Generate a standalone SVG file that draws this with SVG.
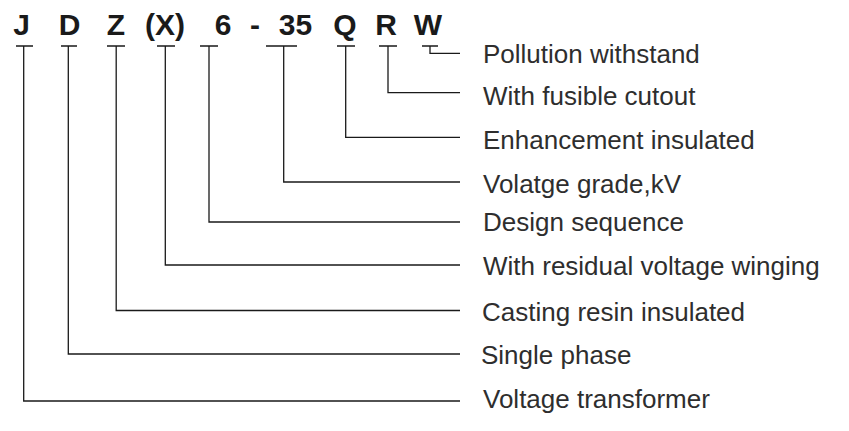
<svg xmlns="http://www.w3.org/2000/svg" width="849" height="431" viewBox="0 0 849 431">
<style>
.code{font-family:"Liberation Sans",Arial,sans-serif;font-weight:bold;font-size:30px;fill:#1a1a1a;text-anchor:middle}
.lbl{font-family:"Liberation Sans",Arial,sans-serif;font-size:26px;fill:#2e2e2e}
.ln{fill:none;stroke:#1a1a1a;stroke-width:1.3}
</style>
<rect width="849" height="431" fill="#ffffff"/>
<g id="code">
<text class="code" x="21.5" y="35">J</text>
<text class="code" x="69.5" y="35">D</text>
<text class="code" x="116" y="35">Z</text>
<text class="code" x="165" y="35">(X)</text>
<text class="code" x="223" y="35">6</text>
<text class="code" x="255" y="35">-</text>
<text class="code" x="295.5" y="35">35</text>
<text class="code" x="345" y="35">Q</text>
<text class="code" x="386" y="35">R</text>
<text class="code" x="428" y="35">W</text>
</g>
<g id="connectors">
<path class="ln" d="M16 46H33M23.7 46V401H460"/>
<path class="ln" d="M61 46H77M68.3 46V354H460"/>
<path class="ln" d="M107 46H125M116.2 46V310.5H460"/>
<path class="ln" d="M157 46H175M165.3 46V265H460"/>
<path class="ln" d="M200 46H218M209 46V222H460"/>
<path class="ln" d="M266 46H297M283.7 46V182H460"/>
<path class="ln" d="M337 46H355M345.7 46V137.3H460"/>
<path class="ln" d="M379 46H397M388 46V92.7H460"/>
<path class="ln" d="M422 46H438M430 46V53.3H460"/>
</g>
<g id="label-w"><text class="lbl" x="483" y="62.5">Pollution withstand</text></g>
<g id="label-r"><text class="lbl" x="483" y="105">With fusible cutout</text></g>
<g id="label-q"><text class="lbl" x="483" y="149">Enhancement insulated</text></g>
<g id="label-35"><text class="lbl" x="483" y="193">Volatge grade,kV</text></g>
<g id="label-6"><text class="lbl" x="483" y="231">Design sequence</text></g>
<g id="label-x"><text class="lbl" x="483" y="275">With residual voltage winging</text></g>
<g id="label-z"><text class="lbl" x="482" y="320.5">Casting resin insulated</text></g>
<g id="label-d"><text class="lbl" x="481" y="364">Single phase</text></g>
<g id="label-j"><text class="lbl" x="483" y="407.5">Voltage transformer</text></g>
</svg>
